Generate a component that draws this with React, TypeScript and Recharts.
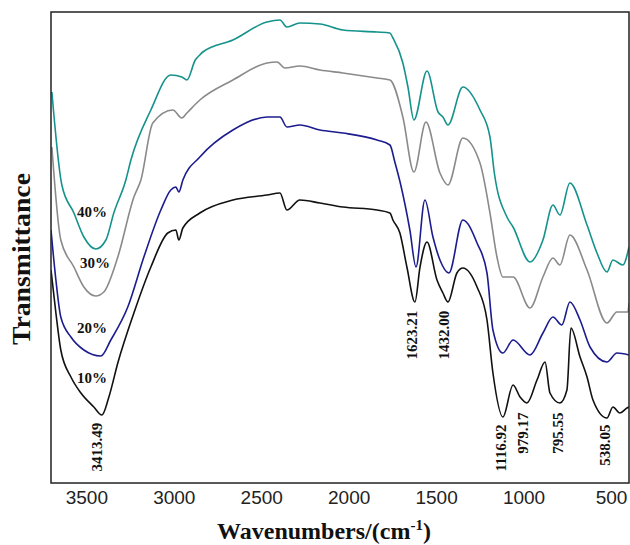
import { LineChart, Line, XAxis, YAxis, ReferenceDot } from "recharts"

// wavenumber (cm-1) and transmittance (arbitrary units, curves offset)
const wn40 = [3700, 3643, 3574, 3517, 3449, 3391, 3346, 3277, 3248, 3134, 3020, 2957, 2928, 2880, 2854, 2837, 2665, 2470, 2396, 2356, 2282, 2167, 2036, 1841, 1767, 1750, 1693, 1664, 1630, 1555, 1492, 1464, 1435, 1350, 1252, 1195, 1170, 1098, 1063, 966, 892, 835, 795, 738, 640, 583, 526, 492, 435, 400]
const t40 = [391, 298, 270, 246, 234, 243, 270, 303, 323, 373, 408, 406, 403, 423, 428, 431, 443, 461, 463, 456, 460, 459, 453, 451, 450, 445, 420, 396, 363, 412, 371, 366, 358, 396, 373, 346, 310, 266, 256, 221, 243, 278, 268, 300, 258, 230, 211, 223, 218, 236]

const wn30 = [3700, 3649, 3574, 3517, 3449, 3403, 3323, 3231, 3191, 3123, 3008, 2957, 2928, 2854, 2665, 2470, 2413, 2367, 2282, 2167, 2036, 1841, 1767, 1693, 1630, 1561, 1481, 1435, 1350, 1252, 1195, 1155, 1121, 1063, 966, 892, 835, 795, 738, 640, 526, 469, 406, 400]
const t30 = [336, 243, 216, 196, 187, 191, 226, 286, 303, 360, 373, 365, 370, 383, 403, 420, 421, 415, 417, 413, 410, 405, 403, 366, 311, 361, 310, 298, 345, 320, 270, 226, 206, 206, 175, 206, 225, 218, 248, 213, 160, 171, 171, 180]

const wn20 = [3705, 3677, 3649, 3591, 3517, 3420, 3363, 3266, 3174, 3077, 3020, 2991, 2974, 2951, 2854, 2665, 2470, 2396, 2356, 2282, 2167, 2036, 1841, 1767, 1739, 1705, 1653, 1618, 1567, 1521, 1481, 1430, 1350, 1269, 1212, 1178, 1121, 1063, 966, 892, 835, 784, 738, 680, 623, 526, 469, 400]
const t20 = [253, 203, 166, 146, 133, 127, 143, 176, 226, 273, 293, 296, 291, 303, 326, 353, 366, 366, 356, 358, 353, 350, 343, 338, 321, 298, 253, 216, 283, 246, 223, 210, 263, 240, 210, 153, 130, 143, 128, 150, 166, 158, 181, 163, 136, 121, 130, 128]

const wn10 = [3705, 3677, 3649, 3591, 3534, 3460, 3414, 3374, 3323, 3231, 3134, 3037, 2991, 2974, 2951, 2854, 2665, 2470, 2396, 2356, 2282, 2167, 2036, 1841, 1767, 1750, 1710, 1670, 1624, 1595, 1555, 1498, 1464, 1435, 1384, 1350, 1269, 1212, 1178, 1121, 1063, 1023, 984, 926, 880, 852, 795, 755, 732, 680, 640, 606, 526, 492, 452, 412, 400]
const t10 = [213, 170, 133, 106, 90, 76, 68, 86, 120, 170, 216, 250, 253, 243, 255, 270, 283, 288, 290, 273, 283, 280, 276, 273, 270, 263, 250, 216, 181, 216, 241, 203, 190, 181, 210, 215, 196, 163, 110, 66, 98, 86, 80, 103, 121, 90, 80, 93, 155, 126, 106, 83, 65, 76, 70, 75, 76]

const xTicks = [3500, 3000, 2500, 2000, 1500, 1000, 500]

const seriesLabels = [
  { text: "40%", wn: 3471, t: 271 },
  { text: "30%", wn: 3454, t: 220 },
  { text: "20%", wn: 3471, t: 155 },
  { text: "10%", wn: 3471, t: 105 },
]

const peakLabels = [
  { text: "3413.49", wn: 3443, t: 36 },
  { text: "1623.21", wn: 1642, t: 148 },
  { text: "1432.00", wn: 1458, t: 148 },
  { text: "1116.92", wn: 1132, t: 35 },
  { text: "979.17", wn: 1006, t: 50 },
  { text: "795.55", wn: 806, t: 50 },
  { text: "538.05", wn: 537, t: 38 },
]

const toData = (wn: number[], t: number[]) => wn.map((w, i) => ({ wn: w, t: t[i] }))

const series = [
  { name: "10%", data: toData(wn10, t10), color: "#111111" },
  { name: "20%", data: toData(wn20, t20), color: "#1c1c8e" },
  { name: "30%", data: toData(wn30, t30), color: "#8a8a8a" },
  { name: "40%", data: toData(wn40, t40), color: "#16928c" },
]

const serif = "'Liberation Serif', 'Times New Roman', serif"

export default function App() {
  return (
    <div style={{ position: "absolute", left: 0, top: 0, width: 630, height: 545, background: "#fff" }}>
      <LineChart width={630} height={545} margin={{ top: 12, right: 1, left: 51, bottom: 0 }}>
        <XAxis
          dataKey="wn"
          type="number"
          domain={[400, 3705]}
          reversed
          allowDataOverflow
          ticks={xTicks}
          tickLine={false}
          axisLine={false}
          height={62}
          tick={{ fontFamily: "'Liberation Sans', Arial, sans-serif", fontSize: 19, fill: "#222" }}
          label={{
            content: () => (
              <text x={324} y={539} textAnchor="middle" fontFamily={serif} fontWeight="bold" fontSize={24} fill="#111">
                Wavenumbers/(cm
                <tspan fontSize={15} dy={-9}>-1</tspan>
                <tspan dy={9}>)</tspan>
              </text>
            ),
          }}
        />
        <YAxis type="number" domain={[0, 471]} width={0} tick={false} tickLine={false} axisLine={false} />
        {series.map((s) => (
          <Line
            key={s.name}
            data={s.data}
            dataKey="t"
            type="monotone"
            stroke={s.color}
            strokeWidth={1.6}
            dot={false}
            isAnimationActive={false}
          />
        ))}
        {seriesLabels.map((l) => (
          <ReferenceDot
            key={l.text}
            x={l.wn}
            y={l.t}
            r={1}
            fill="none"
            stroke="none"
            label={{
              content: (p: any) => {
                const cx = p.viewBox.x + p.viewBox.width / 2
                const cy = p.viewBox.y + p.viewBox.height / 2
                return (
                  <text x={cx} y={cy} textAnchor="middle" dominantBaseline="central" fontFamily={serif} fontWeight="bold" fontSize={15} fill="#111">
                    {l.text}
                  </text>
                )
              },
            }}
          />
        ))}
        {peakLabels.map((l) => (
          <ReferenceDot
            key={l.text}
            x={l.wn}
            y={l.t}
            r={1}
            fill="none"
            stroke="none"
            label={{
              content: (p: any) => {
                const cx = p.viewBox.x + p.viewBox.width / 2
                const cy = p.viewBox.y + p.viewBox.height / 2
                return (
                  <text
                    x={cx}
                    y={cy}
                    transform={`rotate(-90, ${cx}, ${cy})`}
                    textAnchor="middle"
                    dominantBaseline="central"
                    fontFamily={serif}
                    fontWeight="bold"
                    fontSize={15}
                    fill="#111"
                  >
                    {l.text}
                  </text>
                )
              },
            }}
          />
        ))}
      </LineChart>
      {/* frame and y title */}
      <svg width={630} height={545} style={{ position: "absolute", left: 0, top: 0, pointerEvents: "none" }}>
        <rect x={51} y={12} width={578} height={471} fill="none" stroke="#222" strokeWidth={1.5} />
        <text
          x={21}
          y={259}
          transform="rotate(-90, 21, 259)"
          textAnchor="middle"
          dominantBaseline="central"
          fontFamily={serif}
          fontWeight="bold"
          fontSize={25}
          textLength={172}
          lengthAdjust="spacingAndGlyphs"
          fill="#111"
        >
          Transmittance
        </text>
      </svg>
    </div>
  )
}
